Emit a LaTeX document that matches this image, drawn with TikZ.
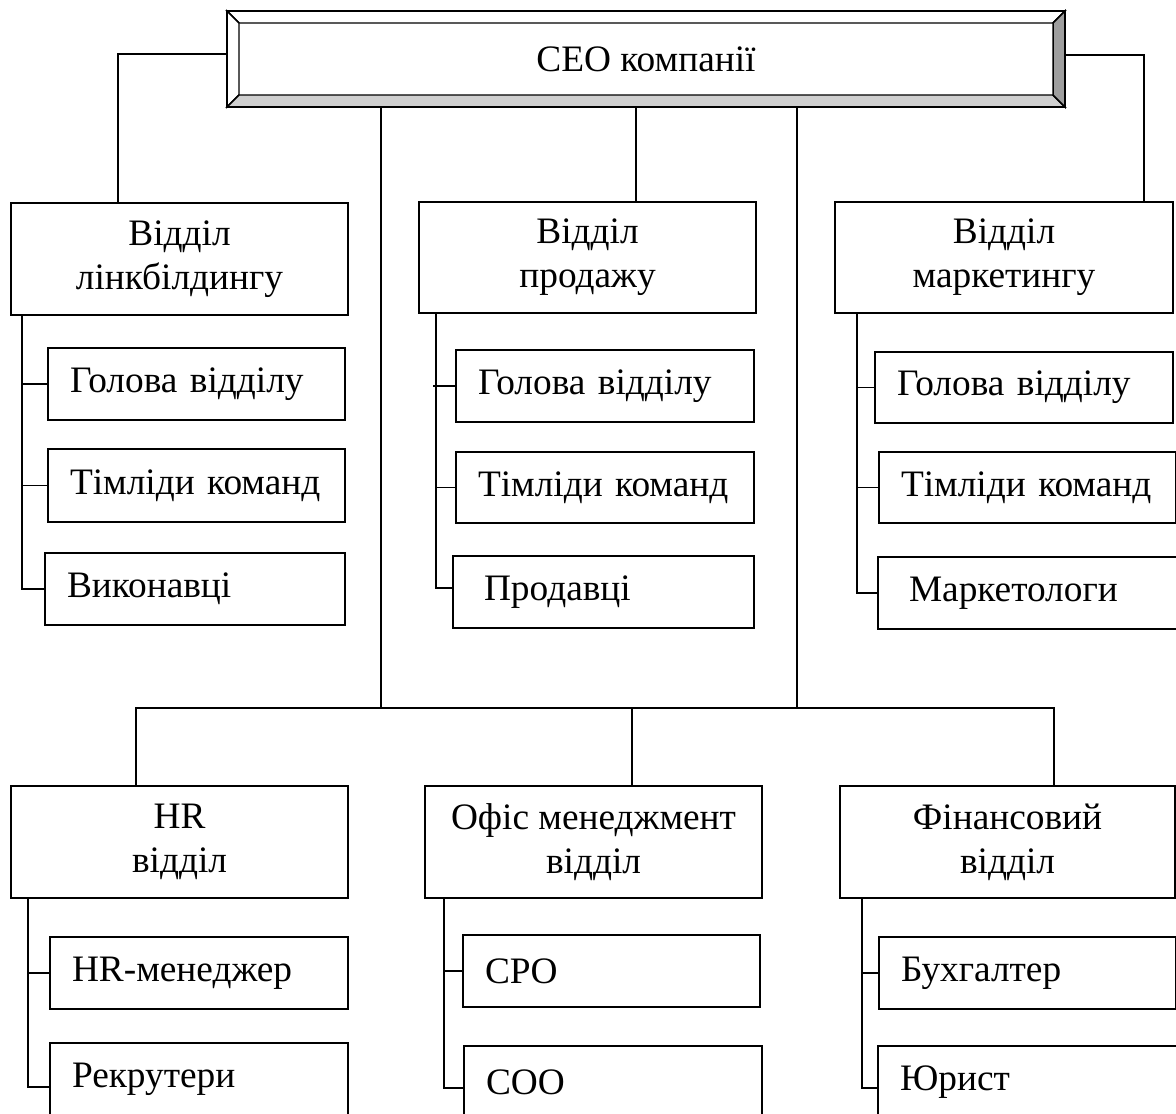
\documentclass[tikz,border=0pt]{standalone}
\usepackage{fontspec}
\setmainfont{Liberation Serif}
\usetikzlibrary{calc}
\newcommand\orgbox[7]{%
  \pgfmathsetlengthmacro\obw{(#5-#3)*0.75pt}%
  \pgfmathsetlengthmacro\obh{(#6-#4)*0.75pt}%
  \node[#1, minimum width=\obw, minimum height=\obh] (#2) at ({(#3+#5)/2},{(#4+#6)/2}) {#7};}
\newcommand\subbox[6]{%
  \pgfmathsetlengthmacro\obw{(#4-#2)*0.75pt}%
  \pgfmathsetlengthmacro\obh{(#5-#3)*0.75pt}%
  \pgfmathsetlengthmacro\obt{(#4-#2)*0.75pt-33pt}%
  \node[subnode, minimum width=\obw, minimum height=\obh, text width=\obt] (#1) at ({(#2+#4)/2},{(#3+#5)/2}) {#6};}
\begin{document}
\begin{tikzpicture}[x=0.75pt,y=-0.75pt,
  every node/.style={font=\fontsize{28}{33}\selectfont, outer sep=0pt},
  boxline/.style={line width=1.3pt},
  conn/.style={line width=1.1pt},
  ceostyle/.style={draw, boxline, inner sep=0pt},
  dept/.style={draw, boxline, align=center, inner sep=0pt},
  subnode/.style={draw, boxline, align=left, inner xsep=16.5pt, inner ysep=0pt},
  bev/.style={line width=1.1pt, line join=miter}]
\useasboundingbox (0,0) rectangle (1176,1113);

% CEO
\orgbox{ceostyle}{ceo}{227}{11}{1065}{107}{CEO компанії}
\draw[bev, fill=white] (ceo.north west) -- ++(12,12) -- ($(ceo.north east)+(-12,12)$) -- (ceo.north east) -- cycle;
\draw[bev, fill=white] (ceo.north west) -- ++(12,12) -- ($(ceo.south west)+(12,-12)$) -- (ceo.south west) -- cycle;
\draw[bev, fill=black!19] (ceo.south west) -- ++(12,-12) -- ($(ceo.south east)+(-12,-12)$) -- (ceo.south east) -- cycle;
\draw[bev, fill=black!38] (ceo.north east) -- ++(-12,12) -- ($(ceo.south east)+(-12,-12)$) -- (ceo.south east) -- cycle;
\draw[boxline] (ceo.north west) rectangle (ceo.south east);

% departments, top row
\orgbox{dept}{d1}{11}{203}{348}{315}{Відділ\\лінкбілдингу}
\orgbox{dept}{d2}{419}{202}{756}{313}{Відділ\\продажу}
\orgbox{dept}{d3}{835}{202}{1173}{313}{Відділ\\маркетингу}

% departments, bottom row
\orgbox{dept}{hr}{11}{786}{348}{898}{HR\\відділ}
\orgbox{dept}{off}{425}{786}{762}{898}{Офіс менеджмент\\відділ}
\orgbox{dept}{fin}{840}{786}{1175}{898}{Фінансовий\\відділ}

% sub boxes
\subbox{d1a}{48}{348}{345}{420}{Голова відділу}
\subbox{d1b}{48}{449}{345}{522}{Тімліди команд}
\subbox{d1c}{45}{553}{345}{625}{Виконавці}
\subbox{d2a}{456}{350}{754}{422}{Голова відділу}
\subbox{d2b}{456}{452}{754}{523}{Тімліди команд}
\subbox{d2c}{453}{556}{754}{628}{\hspace*{6.75pt}Продавці}
\subbox{d3a}{875}{352}{1173}{423}{Голова відділу}
\subbox{d3b}{879}{452}{1176}{523}{Тімліди команд}
\subbox{d3c}{878}{557}{1177}{629}{\hspace*{6.75pt}Маркетологи}
\subbox{hr1}{50}{937}{348}{1009}{HR-менеджер}
\subbox{hr2}{50}{1043}{348}{1115}{Рекрутери}
\subbox{off1}{463}{935}{760}{1007}{CPO}
\subbox{off2}{464}{1046}{762}{1118}{COO}
\subbox{fin1}{879}{937}{1176}{1009}{Бухгалтер}
\subbox{fin2}{878}{1046}{1177}{1118}{Юрист}

% connectors from CEO
\coordinate (bus) at (0,708);
\draw[conn] ($(ceo.west)+(0,-5)$) -| ($(d1.north west)+(107,0)$);
\draw[conn] ($(ceo.east)+(0,-4)$) -| ($(d3.north west)+(309,0)$);
\draw[conn] ($(ceo.south west)+(409,0)$) -- ($(d2.north west)+(217,0)$);
\path (ceo.south west) ++(154,0) coordinate (tL) ++(416,0) coordinate (tR);
\draw[conn] (tL) -- (tL |- bus);
\draw[conn] (tR) -- (tR |- bus);
\path (hr.north west) ++(125,0) coordinate (hrT);
\path (off.north west) ++(207,0) coordinate (offT);
\path (fin.north west) ++(214,0) coordinate (finT);
\draw[conn] (hrT) -- (hrT |- bus) -- (finT |- bus) -- (finT);
\draw[conn] (offT) -- (offT |- bus);

% sub connectors
\path (d1.south west) ++(11,0) coordinate (s1);
\draw[conn] (s1) |- (d1c.west);
\draw[conn] (d1a.west) -- (d1a.west -| s1);
\draw[conn] (d1b.west) -- (d1b.west -| s1);

\path (d2.south west) ++(17,0) coordinate (s2);
\draw[conn] (s2) |- ($(d2c.west)+(0,-4)$);
\draw[conn] (d2a.west) -- ++(-23,0);
\draw[conn] (d2b.west) -- (d2b.west -| s2);

\path (d3.south west) ++(22,0) coordinate (s3);
\draw[conn] (s3) |- (d3c.west);
\draw[conn] (d3a.west) -- (d3a.west -| s3);
\draw[conn] (d3b.west) -- (d3b.west -| s3);

\path (hr.south west) ++(17,0) coordinate (s4);
\draw[conn] (s4) |- ($(hr2.west)+(0,8)$);
\draw[conn] (hr1.west) -- (hr1.west -| s4);

\path (off.south west) ++(19,0) coordinate (s5);
\draw[conn] (s5) |- ($(off2.west)+(0,6)$);
\draw[conn] (off1.west) -- (off1.west -| s5);

\path (fin.south west) ++(22,0) coordinate (s6);
\draw[conn] (s6) |- ($(fin2.west)+(0,6)$);
\draw[conn] (fin1.west) -- (fin1.west -| s6);
\end{tikzpicture}
\end{document}
